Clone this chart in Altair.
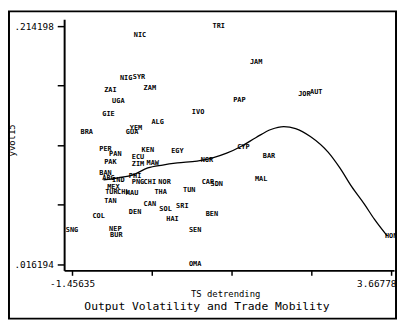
import altair as alt
import pandas as pd

# country labels and their (x, y) values
codes = ["NIC", "TRI", "JAM", "JOR", "AUT", "PAP", "IVO", "NIG", "SYR", "ZAI",
         "ZAM", "UGA", "GIE", "ALG", "YEM", "GUA", "BRA", "PER", "PAN", "PAK",
         "KEN", "EGY", "ECU", "ZIM", "MAW", "BAN", "ARG", "IND", "PHI", "PNG",
         "CHI", "NOR", "MEX", "TUR", "CHL", "MAU", "THA", "TUN", "CAR", "SDN",
         "NGR", "CYP", "BAR", "MAL", "TAN", "CAN", "SOL", "SRI", "DEN", "COL",
         "HAI", "BEN", "SEN", "OMA", "SNG", "NEP", "BUR", "HON"]
ts_detr = [-0.365, 0.900, 1.501, 2.276, 2.466, 1.232, 0.568, -0.587, -0.381, -0.840,
           -0.207, -0.713, -0.871, -0.081, -0.428, -0.492, -1.219, -0.919, -0.761, -0.840,
           -0.239, 0.236, -0.397, -0.397, -0.160, -0.919, -0.871, -0.713, -0.444, -0.397,
           -0.207, 0.030, -0.792, -0.824, -0.634, -0.492, -0.033, 0.426, 0.726, 0.868,
           0.710, 1.295, 1.707, 1.580, -0.840, -0.207, 0.046, 0.315, -0.444, -1.029,
           0.157, 0.789, 0.521, 0.521, -1.45635, -0.761, -0.745, 3.66778]
yvol = [0.2068, 0.214198, 0.1847, 0.1577, 0.1594, 0.1528, 0.1430, 0.1708, 0.1716, 0.1610,
        0.1626, 0.1520, 0.1414, 0.1348, 0.1299, 0.1266, 0.1266, 0.1119, 0.1078, 0.1013,
        0.1111, 0.1103, 0.1054, 0.0996, 0.1005, 0.0923, 0.0882, 0.0865, 0.0898, 0.0849,
        0.0849, 0.0849, 0.0808, 0.0767, 0.0767, 0.0759, 0.0767, 0.0784, 0.0849, 0.0833,
        0.1029, 0.1135, 0.1062, 0.0874, 0.0686, 0.0661, 0.0620, 0.0645, 0.0596, 0.0563,
        0.0538, 0.0579, 0.0448, 0.016194, 0.0448, 0.0456, 0.0407, 0.0399]

# smoothed (lowess) curve
curve_x = [-0.950, -0.713, -0.476, -0.239, -0.001, 0.236, 0.552, 0.789, 1.027, 1.264,
           1.501, 1.738, 1.944, 2.134, 2.371, 2.656, 2.845, 3.035, 3.241, 3.399, 3.605]
curve_y = [0.0865, 0.0882, 0.0906, 0.0964, 0.0988, 0.1005, 0.1021, 0.1045, 0.1086, 0.1144,
           0.1217, 0.1283, 0.1307, 0.1291, 0.1225, 0.1095, 0.0964, 0.0808, 0.0661, 0.0538,
           0.0399]

x_ticks = [-1.45635, -0.175318, 1.105715, 2.386748, 3.66778]
y_ticks = [0.016194, 0.065695, 0.115196, 0.164697, 0.214198]

x_title = "TS detrending"
y_title = "yvol15"
main_title = "Output Volatility and Trade Mobility"

pts = pd.DataFrame({"code": codes, "x": ts_detr, "y": yvol})
cur = pd.DataFrame({"x": curve_x, "y": curve_y})

xscale = alt.Scale(domain=[-1.58287, 3.71515], nice=False, zero=False)
yscale = alt.Scale(domain=[0.011286, 0.219876], nice=False, zero=False)

mono = "DejaVu Sans Mono"

xaxis = alt.Axis(values=x_ticks, title=None, grid=False,
                 labelExpr="datum.value < -1.4 ? '-1.45635' : (datum.value > 3.6 ? '3.66778' : '')",
                 labelFont=mono, labelFontSize=9.5, labelColor="black",
                 labelFlush=5, labelFlushOffset=5, labelPadding=3,
                 domainColor="black", domainWidth=2, tickColor="black",
                 tickWidth=1.5, tickSize=5)
yaxis = alt.Axis(values=y_ticks, title=None, grid=False,
                 labelExpr="datum.value > 0.2 ? '.214198' : (datum.value < 0.02 ? '.016194' : '')",
                 labelFont=mono, labelFontSize=9.5, labelColor="black",
                 labelPadding=4, domainColor="black", domainWidth=2,
                 tickColor="black", tickWidth=1.5, tickSize=7)

labels = alt.Chart(pts).mark_text(font=mono, fontSize=7, fontWeight="bold", color="black").encode(
    x=alt.X("x:Q", scale=xscale, axis=xaxis),
    y=alt.Y("y:Q", scale=yscale, axis=yaxis),
    text="code:N",
)

line = alt.Chart(cur).mark_line(color="black", strokeWidth=1.3, interpolate="monotone").encode(
    x=alt.X("x:Q", scale=xscale),
    y=alt.Y("y:Q", scale=yscale),
)

frame = alt.Chart(pd.DataFrame({"a": [0]})).mark_rect(
    fill=None, stroke="black", strokeWidth=2
).encode(x=alt.value(-56), x2=alt.value(337), y=alt.value(-8), y2=alt.value(304))

t_main = alt.Chart(pd.DataFrame({"t": [main_title]})).mark_text(
    font=mono, fontSize=11.5, color="black"
).encode(x=alt.value(145), y=alt.value(292), text="t:N")

t_x = alt.Chart(pd.DataFrame({"t": [x_title]})).mark_text(
    font=mono, fontSize=9, color="black"
).encode(x=alt.value(164), y=alt.value(279), text="t:N")

t_y = alt.Chart(pd.DataFrame({"t": [y_title]})).mark_text(
    font=mono, fontSize=9, color="black", angle=270
).encode(x=alt.value(-53), y=alt.value(123), text="t:N")

chart = alt.layer(frame, line, labels, t_main, t_x, t_y).properties(
    width=335, height=255,
    autosize=alt.AutoSizeParams(type="none"),
    padding={"left": 57, "top": 9, "right": 3, "bottom": 50},
    background="white",
).configure_view(strokeWidth=0)

chart.save("out.html", embed_options={"renderer": "svg", "actions": False})
